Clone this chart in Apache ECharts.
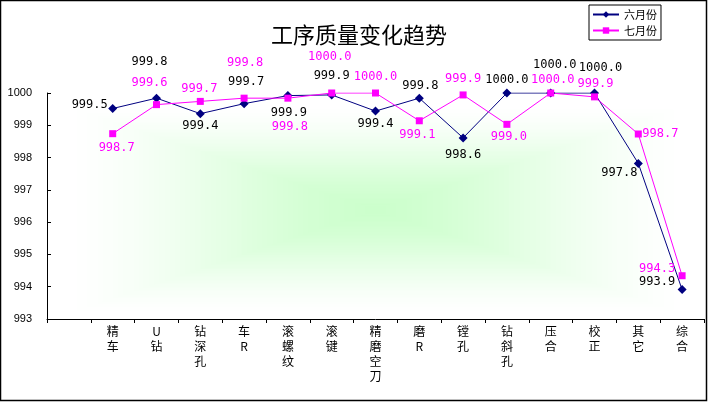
<!DOCTYPE html>
<html>
<head>
<meta charset="utf-8">
<script src="https://cdn.jsdelivr.net/npm/echarts@6/dist/echarts.min.js"></script>
<style>
  html, body { margin: 0; padding: 0; background: #fff; }
  #chart { width: 709px; height: 402px; }
</style>
</head>
<body>
<div id="chart"></div>
<script>
// --- 數據 ---
const categories = ['精车', 'U钻', '钻深孔', '车R', '滚螺纹', '滚键', '精磨空刀', '磨R', '镗孔', '钻斜孔', '压合', '校正', '其它', '综合'];
const juneValues = [999.52, 999.84, 999.36, 999.67, 999.92, 999.94, 999.44, 999.84, 998.61, 1000.0, 1000.0, 1000.0, 997.82, 993.91];
const julyValues = [998.74, 999.64, 999.74, 999.84, 999.84, 1000.0, 1000.0, 999.14, 999.94, 999.03, 1000.0, 999.88, 998.73, 994.34];
const yTicks = { min: 993, max: 1000, interval: 1 };

// 標籤偏移 (相對於數據點中心, 像素)
const juneLabelOffset = [[-23, -4], [-7, -36], [0, 12], [2, -22], [1, 17], [0, -19], [0, 13], [1, -12], [0, 17], [0, -13], [4, -28], [6, -25], [-19, 9], [-25, -8]];
const julyLabelOffset = [[4, 14], [-7, -22], [-1, -13], [1, -35], [2, 29], [-2, -36], [0, -16], [-2, 14], [0, -16], [2, 13], [2, -13], [1, -13], [22, 0], [-25, -7]];

const NAVY = '#000080';
const PINK = '#ff00ff';
const labelFont = { fontFamily: 'DejaVu Sans Mono', fontSize: 12 };

const chart = echarts.init(document.getElementById('chart'));

// 繪圖區 (像素)
const plot = { left: 47, top: 93, right: 5, bottom: 83 };
const plotW = 709 - plot.left - plot.right;
const plotH = 402 - plot.top - plot.bottom;

const toItems = (vals, offsets) =>
  [null].concat(vals.map((v, i) => ({ value: v, label: { offset: offsets[i] } })));

// 矩形漸層背景 (由外白到中心淺綠), 以同心矩形疊出
const bgRects = [];
const steps = 60;
const cx = plot.left + plotW / 2;
const cy = plot.top + plotH / 2 + 4;
const spanW = plotW * 0.94;
const spanH = plotH * 0.92;
for (let s = 0; s < steps; s++) {
  const k = 1 - s / steps;
  const u = s / (steps - 1);
  const t = u * u * (3 - 2 * u) * 0.6 + u * 0.4;
  const g = (from, to) => Math.round(from + (to - from) * t);
  bgRects.push({
    type: 'rect', z: -10 + s * 0.01, silent: true,
    shape: { x: cx - spanW / 2 * k, y: cy - spanH / 2 * k, width: spanW * k, height: spanH * k },
    style: { fill: `rgb(${g(255, 204)}, 255, ${g(255, 204)})` }
  });
}

chart.setOption({
  animation: false,
  backgroundColor: '#ffffff',
  title: {
    text: '工序质量变化趋势',
    left: 354, top: 19, textAlign: 'center',
    textStyle: { fontFamily: 'Noto Sans CJK SC', fontSize: 22, fontWeight: 'normal', color: '#000' }
  },
  legend: {
    orient: 'vertical',
    left: 589, top: 5,
    padding: [3, 4, 3, 3],
    itemGap: 3,
    itemWidth: 26, itemHeight: 8,
    borderColor: '#000', borderWidth: 1, borderRadius: 0,
    textStyle: { fontFamily: 'Noto Sans CJK SC', fontSize: 11, color: '#000', lineHeight: 13 },
    data: ['六月份', '七月份']
  },
  graphic: bgRects.concat([
    {
      type: 'rect', z: 100, silent: true,
      shape: { x: 0.5, y: 0.5, width: 706, height: 400 },
      style: { fill: 'none', stroke: '#000', lineWidth: 1.5 }
    }
  ]),
  grid: { left: plot.left, top: plot.top, right: plot.right, bottom: plot.bottom, containLabel: false },
  xAxis: {
    type: 'category',
    data: [''].concat(categories),
    boundaryGap: true,
    axisLine: { lineStyle: { color: '#000', width: 1 } },
    axisTick: { show: true, inside: false, length: 4, alignWithLabel: false, lineStyle: { color: '#000' } },
    axisLabel: {
      interval: 0, margin: 5,
      fontFamily: 'Noto Sans CJK SC', fontSize: 12, lineHeight: 15, color: '#000',
      formatter: v => v.split('').join('\n')
    },
    splitLine: { show: false }
  },
  yAxis: {
    type: 'value',
    min: yTicks.min, max: yTicks.max, interval: yTicks.interval,
    axisLine: { show: true, lineStyle: { color: '#000', width: 1 } },
    axisTick: { show: true, inside: true, length: 4, lineStyle: { color: '#000' } },
    axisLabel: {
      margin: 15, fontFamily: 'Liberation Sans', fontSize: 11, color: '#000',
      formatter: v => String(v)
    },
    splitLine: { show: false }
  },
  series: [
    {
      name: '六月份', type: 'line',
      data: toItems(juneValues, juneLabelOffset),
      symbol: 'diamond', symbolSize: 9,
      lineStyle: { color: NAVY, width: 1 },
      itemStyle: { color: NAVY },
      label: {
        show: true, position: 'inside', color: '#000', ...labelFont,
        formatter: p => p.value.toFixed(1)
      }
    },
    {
      name: '七月份', type: 'line',
      data: toItems(julyValues, julyLabelOffset),
      symbol: 'rect', symbolSize: 7,
      lineStyle: { color: PINK, width: 1 },
      itemStyle: { color: PINK },
      label: {
        show: true, position: 'inside', color: PINK, ...labelFont,
        formatter: p => p.value.toFixed(1)
      }
    }
  ]
});
</script>
</body>
</html>
